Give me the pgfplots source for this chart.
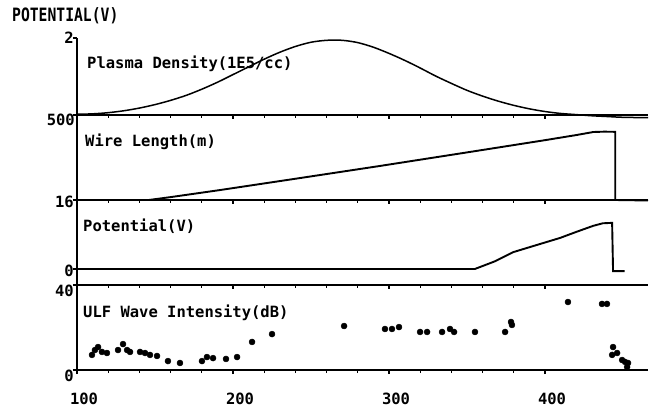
\documentclass[border=0pt]{standalone}
\usepackage{fontspec}
\setmainfont{DejaVu Sans Mono}
\usepackage{graphicx}
\usepackage{pgfplots}
\pgfplotsset{compat=1.18}

% plotter style lettering
\newcommand{\labfont}{\fontsize{15.5}{18}\selectfont\bfseries}
\newcommand{\ticfont}{\fontsize{15.5}{18}\selectfont\bfseries}
\newcommand{\tl}[1]{{\ticfont #1}}

\pgfplotsset{
  panel/.style={
    scale only axis, width=571pt, xmin=100, xmax=466,
    axis x line*=bottom, axis y line*=left,
    axis line style={-, line width=1.8pt},
    xtick={100,200,300,400}, minor x tick num=4, xticklabels={},
    tick align=outside, major tick length=4pt, minor tick length=3pt,
    every tick/.style={line width=1.2pt, black},
    clip=false,
    yticklabel style={anchor=north east, inner sep=0pt},
  },
  curve/.style={black, line width=1.9pt, no markers},
}

\begin{document}
\begin{tikzpicture}
\path[use as bounding box] (0pt,0pt) rectangle (649pt,-409pt);

% Plasma density (1E5/cc)
\begin{axis}[panel, at={(77pt,-115pt)}, anchor=south west, height=77pt,
  ymin=0, ymax=2, ytick={2}, yticklabels={\tl{2}},
  yticklabel style={yshift=6pt, xshift=1pt}]
  \addplot[curve, line width=1.5pt, smooth] coordinates {
    (100,0.02) (110,0.03) (120,0.06) (130,0.11) (140,0.18) (150,0.27)
    (160,0.38) (170,0.51) (180,0.67) (190,0.85) (200,1.05) (210,1.25)
    (220,1.45) (230,1.63) (240,1.78) (250,1.89) (260,1.94) (270,1.94)
    (280,1.88) (290,1.76) (300,1.60) (310,1.42) (320,1.22) (330,1.01)
    (340,0.82) (350,0.64) (360,0.49) (370,0.36) (380,0.25) (390,0.16)
    (400,0.09) (410,0.04) (420,0.01) (430,-0.02) (440,-0.04) (450,-0.06)
    (466,-0.07)
  };
\end{axis}

% Wire length (m)
\begin{axis}[panel, at={(77pt,-200pt)}, anchor=south west, height=85pt,
  ymin=0, ymax=500, ytick={500}, yticklabels={\tl{500}},
  yticklabel style={yshift=1pt, xshift=2pt}]
  \addplot[curve] coordinates {
    (100,0) (146,0) (160,17) (192,59) (240,125) (294,200) (350,280)
    (400,352) (420,382) (431,400) (438,402) (445,401) (445,0) (466,-3)
  };
\end{axis}

% Potential (V)
\begin{axis}[panel, at={(77pt,-285pt)}, anchor=south west, height=85pt,
  ymin=-3.71, ymax=16, ytick={0,16}, yticklabels={\tl{0},\tl{16}},
  yticklabel style={yshift=4pt, xshift=1pt}]
  \addplot[curve] coordinates {
    (100,0) (355,0) (368,1.8) (379.5,3.9) (395,5.6) (409.6,7.2) (420,8.6)
    (430.8,10.0) (437,10.6) (443,10.7) (443.6,-0.5) (451,-0.5)
  };
\end{axis}

% ULF wave intensity (dB)
\begin{axis}[panel, at={(77pt,-370pt)}, anchor=south west, height=85pt,
  ymin=0, ymax=40, ytick={0,40}, yticklabels={\tl{0},\tl{40}},
  yticklabel style={xshift=1pt},
  xticklabels={\tl{100},\tl{200},\tl{300},\tl{400}},
  xticklabel style={anchor=north, inner sep=0pt, yshift=-19pt, xshift=7pt}]
  \addplot[only marks, mark=*, mark size=3pt, black] coordinates {
    (109.6,7.1) (111.5,9.4) (113.5,10.8) (116,8.5) (119.2,8.0)
    (126.3,9.4) (129.5,12.2) (132.1,9.4) (134,8.5) (140.4,8.5)
    (143.6,8.0) (146.8,7.1) (151.3,6.6) (158.3,4.2) (166,3.3)
    (180.1,4.2) (183.3,6.1) (187.2,5.6) (195.5,5.2) (202.6,6.1)
    (212.2,13.2) (225,16.9) (271.2,20.7) (297.4,19.3) (301.9,19.3)
    (306.4,20.2) (319.9,17.9) (324.4,17.9) (334,17.9) (339.1,19.3)
    (341.7,17.9) (355.1,17.9) (374.4,17.9) (378.2,22.6) (378.8,21.2)
    (414.7,32.0) (436.5,31.1) (439.7,31.1) (443.6,10.8) (443,7.1)
    (446.2,8.0) (449.4,4.7) (451.3,3.8) (452.6,1.4) (453.2,3.3)
  };
\end{axis}

\node[anchor=base west, inner sep=0pt] at (12pt,-22pt)
  {\scalebox{1}[1.25]{\fontsize{14.7}{17}\selectfont\bfseries POTENTIAL(V)}};
\node[anchor=base west, inner sep=0pt, font=\labfont] at (87pt,-69pt) {Plasma Density(1E5/cc)};
\node[anchor=base west, inner sep=0pt, font=\labfont] at (85pt,-147pt) {Wire Length(m)};
\node[anchor=base west, inner sep=0pt, font=\labfont] at (83pt,-232pt) {Potential(V)};
\node[anchor=base west, inner sep=0pt, font=\labfont] at (83pt,-317pt) {ULF Wave Intensity(dB)};
\end{tikzpicture}
\end{document}
